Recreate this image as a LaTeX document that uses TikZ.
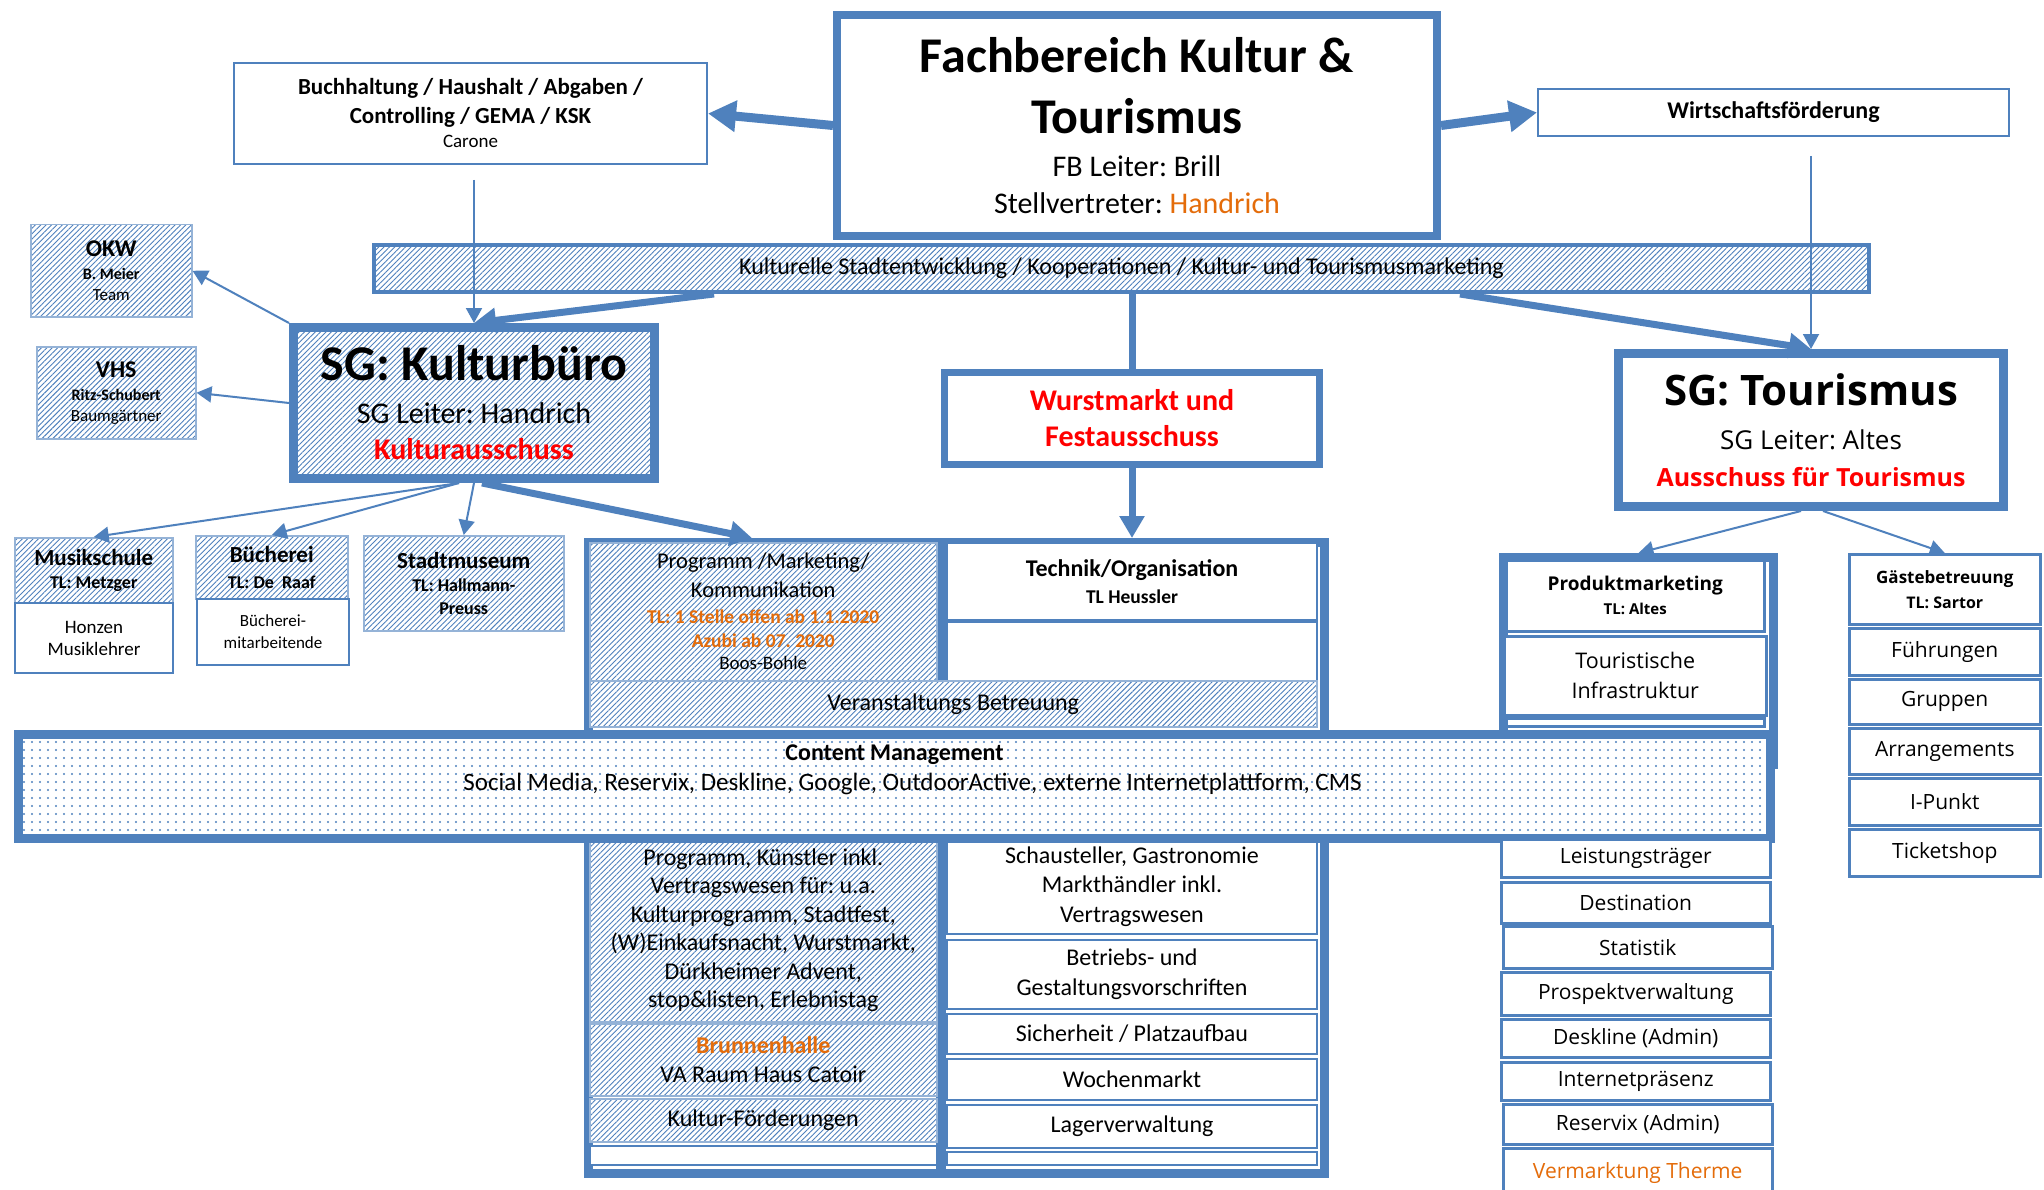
\documentclass[tikz,border=0pt]{standalone}
\usepackage{fontspec}
\setmainfont{Carlito}
\newfontfamily\tourfont{Open Sans}
\usetikzlibrary{
  arrows.meta,
  patterns.meta
}
\definecolor{ofblue}{RGB}{79,129,189}
\definecolor{paleblue}{RGB}{149,179,215}
\definecolor{alarm}{RGB}{255,0,0}
\definecolor{tango}{RGB}{228,108,10}
\newcommand\fs[2]{\fontsize{#1}{#2}\selectfont}
\frenchspacing

\begin{document}
\begin{tikzpicture}[x=1pt,y=-1pt,
    box/.style={draw=ofblue,line width=2pt,fill=white,align=flush center,
      inner xsep=0pt,inner ysep=1pt,anchor=north west},
    heavy/.style={box,line width=8pt},
    hatch/.style={box,draw=paleblue,line width=1.5pt,fill=none,preaction={fill=white},
      pattern={Lines[angle=45,distance=3.8pt,line width=.9pt]},pattern color=ofblue},
    speckled/.style={box,line width=9pt,fill=none,preaction={fill=white},
      pattern={Dots[radius=1.1pt,distance=8pt]},pattern color=ofblue},
    sz/.style 2 args={minimum width=#1pt,minimum height=#2pt,text width=#1pt},
    tourbox/.style={box,line width=2.5pt,font=\tourfont\fs{21}{24}},
    link/.style={draw=ofblue,line width=2pt,-{Triangle[length=15pt,width=16pt]}},
    flow/.style={draw=ofblue,line width=7pt,-{Triangle[length=22pt,width=24pt]}},
    bigflow/.style={draw=ofblue,line width=9pt,-{Triangle[length=28pt,width=30pt]}}
  ]
  \fill[white] (0,0) rectangle (2044,1190);
  \useasboundingbox (0,0) rectangle (2044,1190);

  % top level
  \node[heavy,sz={600}{221}] (fach) at (833,11)
    {\fs{50}{61}\bfseries Fachbereich Kultur \&\\Tourismus\par\vspace{6pt}
     \fs{30}{37}\mdseries FB Leiter: Brill\\Stellvertreter: \textcolor{tango}{Handrich}\par};
  \node[box,sz={473}{101}] (buch) at (233,62)
    {\fs{23}{29}\bfseries Buchhaltung / Haushalt / Abgaben /\\Controlling / GEMA / KSK\par
     \fs{19}{24}\mdseries Carone\par};
  \node[box,sz={471}{47},font=\fs{24}{28}\bfseries] (wirt) at (1537,88) {Wirtschaftsförderung};
  \node[hatch,draw=ofblue,line width=4pt,sz={1495}{47},font=\fs{24}{27}] (band) at (372,243)
    {Kulturelle Stadtentwicklung / Kooperationen / Kultur- und Tourismusmarketing};

  % Kulturbuero
  \node[hatch,draw=ofblue,line width=9pt,sz={361}{151}] (kb) at (289,323)
    {\fs{50}{56}\bfseries SG: Kulturbüro\par\vspace{7pt}
     \fs{30}{36}\mdseries SG Leiter: Handrich\\\textcolor{alarm}{\bfseries Kulturausschuss}\par};
  \node[hatch,sz={161}{92}] (okw) at (30,224)
    {\fs{24}{28}\bfseries OKW\par\fs{16}{23}B. Meier\par\fs{17}{21}\mdseries Team\par};
  \node[hatch,sz={159}{92}] (vhs) at (36,346)
    {\fs{24}{28}\bfseries VHS\par\fs{16}{23}Ritz-Schubert\par\fs{17}{21}\mdseries Baumgärtner\par};
  \node[hatch,sz={158}{65}] (mstop) at (14,537)
    {\fs{23}{26}\bfseries Musikschule\par\fs{18}{23}TL: Metzger\par};
  \node[box,sz={158}{70},font=\fs{19}{22}] (msbot) at (14,602) {Honzen\\Musiklehrer};
  \node[hatch,sz={152}{63}] (butop) at (195,535)
    {\fs{23}{26}\bfseries Bücherei\par\fs{18}{26}TL: De\ \ Raaf\par};
  \node[box,sz={152}{66},font=\fs{17}{22}] (bubot) at (196,598) {Bücherei-\\mitarbeitende};
  \node[hatch,sz={200}{95}] (sm) at (363,535)
    {\fs{23}{26}\bfseries Stadtmuseum\par\fs{18}{23}TL: Hallmann-\\Preuss\par};

  \node[heavy,line width=7pt,sz={375}{92},font=\fs{30}{36}\bfseries,text=alarm] (wm) at (941,369)
    {Wurstmarkt und\\Festausschuss};
  \node[heavy,line width=9pt,sz={385}{153},font=\tourfont] (tour) at (1614,349)
    {\fs{42}{48}\bfseries SG: Tourismus\par\vspace{7pt}
     \fs{26}{37}\mdseries SG Leiter: Altes\\\textcolor{alarm}{\bfseries\fs{25}{37}Ausschuss für Tourismus}\par};

  % middle block
  \node[heavy,line width=9pt,sz={736}{631}] (mid) at (584,538) {};
  \draw[ofblue,line width=10pt] (941,538) -- (941,680) (941,838) -- (941,1169);
  \node[hatch,sz={347}{138}] (prog) at (589,542)
    {\fs{22.5}{29}Programm /Marketing/\\Kommunikation\par
     \fs{19.5}{26}\bfseries\color{tango}TL: 1 Stelle offen ab 1.1.2020\par\fs{19.5}{23.5}Azubi ab 07. 2020\par
     \fs{19}{22.5}\mdseries\color{black}Boos-Bohle\par};
  \node[box,sz={370}{77}] (tech) at (946,542)
    {\fs{24}{27}\bfseries Technik/Organisation\par\fs{19.5}{27}TL Heussler\par};
  \node[box,sz={370}{59}] (techx) at (946,621) {};
  \node[hatch,sz={727}{46},font=\fs{24}{27}] (vb) at (589,680) {Veranstaltungs Betreuung};

  \node[hatch,sz={347}{183},font=\fs{24}{28.5}] (kp) at (589,838)
    {Programm, Künstler inkl.\\Vertragswesen für: u.a.\\Kulturprogramm, Stadtfest,\\(W)Einkaufsnacht, Wurstmarkt,\\Dürkheimer Advent,\\stop\&listen, Erlebnistag};
  \node[hatch,sz={347}{72}] (bh) at (589,1023)
    {\fs{24}{29}\bfseries\color{tango}Brunnenhalle\par\mdseries\color{black}VA Raum Haus Catoir\par};
  \node[hatch,sz={347}{43},font=\fs{24}{27}] (kf) at (589,1098) {Kultur-Förderungen};
  \node[box,sz={347}{19}] (lblank) at (589,1145) {};
  \node[box,sz={370}{95},font=\fs{24}{29.5}] (sch) at (946,838)
    {Schausteller, Gastronomie\\Markthändler inkl.\\Vertragswesen};
  \node[box,sz={370}{69},font=\fs{24}{30}] (bet) at (946,939) {Betriebs- und\\Gestaltungsvorschriften};
  \node[box,sz={370}{40},font=\fs{24}{27}] (sich) at (946,1013) {Sicherheit / Platzaufbau};
  \node[box,sz={370}{41},font=\fs{24}{27}] (woch) at (946,1058) {Wochenmarkt};
  \node[box,sz={370}{43},font=\fs{24}{27}] (lag) at (946,1104) {Lagerverwaltung};
  \node[box,sz={370}{13}] (rblank) at (946,1151) {};

  % Tourismus
  \node[heavy,line width=9pt,sz={270}{207}] (pmc) at (1499,553) {};
  \node[tourbox,sz={258}{71},font=\tourfont\fs{19}{24}] (pm) at (1505,559)
    {\bfseries Produktmarketing\par\fs{15}{24}TL: Altes\par};
  \node[tourbox,sz={262}{79},font=\tourfont\fs{21.5}{30}] (ti) at (1503,635) {Touristische\\Infrastruktur};
  \node[tourbox,sz={258}{8}] (tstrip) at (1505,717) {};

  \node[speckled,sz={1752}{104}] (cm) at (14,730)
    {\fs{24}{30}\bfseries Content Management\par
     \fs{25}{30}\mdseries\hspace*{36pt}Social Media, Reservix, Deskline, Google, OutdoorActive, externe Internetplattform, CMS\par
     \leavevmode\rule[-8pt]{0pt}{0pt}\par};

  \node[tourbox,sz={269}{38}] (leis) at (1500,838) {Leistungsträger};
  \node[tourbox,sz={269}{41}] (dest) at (1500,881) {Destination};
  \node[tourbox,sz={269}{42}] (stat) at (1502,925) {Statistik};
  \node[tourbox,sz={269}{43}] (pros) at (1500,971) {Prospektverwaltung};
  \node[tourbox,sz={269}{38}] (desk) at (1500,1018) {Deskline (Admin)};
  \node[tourbox,sz={269}{38}] (inet) at (1500,1061) {Internetpräsenz};
  \node[tourbox,sz={269}{40}] (resx) at (1502,1103) {Reservix (Admin)};
  \node[tourbox,sz={269}{49},text=tango] (verm) at (1502,1147) {Vermarktung Therme};

  \node[tourbox,sz={191}{70}] (gb) at (1848,553)
    {\fs{17}{22}\bfseries Gästebetreuung\par\fs{16}{25}TL: Sartor\par};
  \node[tourbox,sz={191}{47}] (fue) at (1848,627) {Führungen};
  \node[tourbox,sz={191}{45}] (grp) at (1848,678) {Gruppen};
  \node[tourbox,sz={191}{46}] (arr) at (1848,727) {Arrangements};
  \node[tourbox,sz={191}{47}] (ipk) at (1848,777) {I-Punkt};
  \node[tourbox,sz={191}{47}] (tix) at (1848,828) {Ticketshop};

  % connections
  \coordinate (bdrop) at ([yshift=-15pt]buch.south);
  \coordinate (wdrop) at ([yshift=-19pt]wirt.south);
  \draw[bigflow] (fach.west) -- (buch.east);
  \draw[bigflow] (fach.east) -- (wirt.west);
  \draw[link] (bdrop -| kb.north) -- (kb.north);
  \draw[link] (wdrop -| tour.north) -- (tour.north);
  \draw[flow] ([xshift=342pt]band.south west) -- (kb.north);
  \draw[flow] ([xshift=1088pt]band.south west) -- (tour.north);
  \draw[draw=ofblue,line width=7pt] (band.south -| wm.north) -- (wm.north);
  \draw[flow] (wm.south) -- (wm.south |- mid.north);
  \draw[link] (kb.north west) -- (okw.east);
  \draw[link] (kb.west) -- (vhs.east);
  \draw[link] ([xshift=-15pt]kb.south) -- (mstop.north);
  \draw[link] ([xshift=-15pt]kb.south) -- (butop.north);
  \draw[link] (kb.south) -- (sm.north);
  \draw[flow] ([xshift=8pt]kb.south) -- ([xshift=168pt]mid.north west);
  \draw[link] ([xshift=-10pt]tour.south) -- (pmc.north);
  \draw[link] ([xshift=12pt]tour.south) -- (gb.north);
\end{tikzpicture}
\end{document}
